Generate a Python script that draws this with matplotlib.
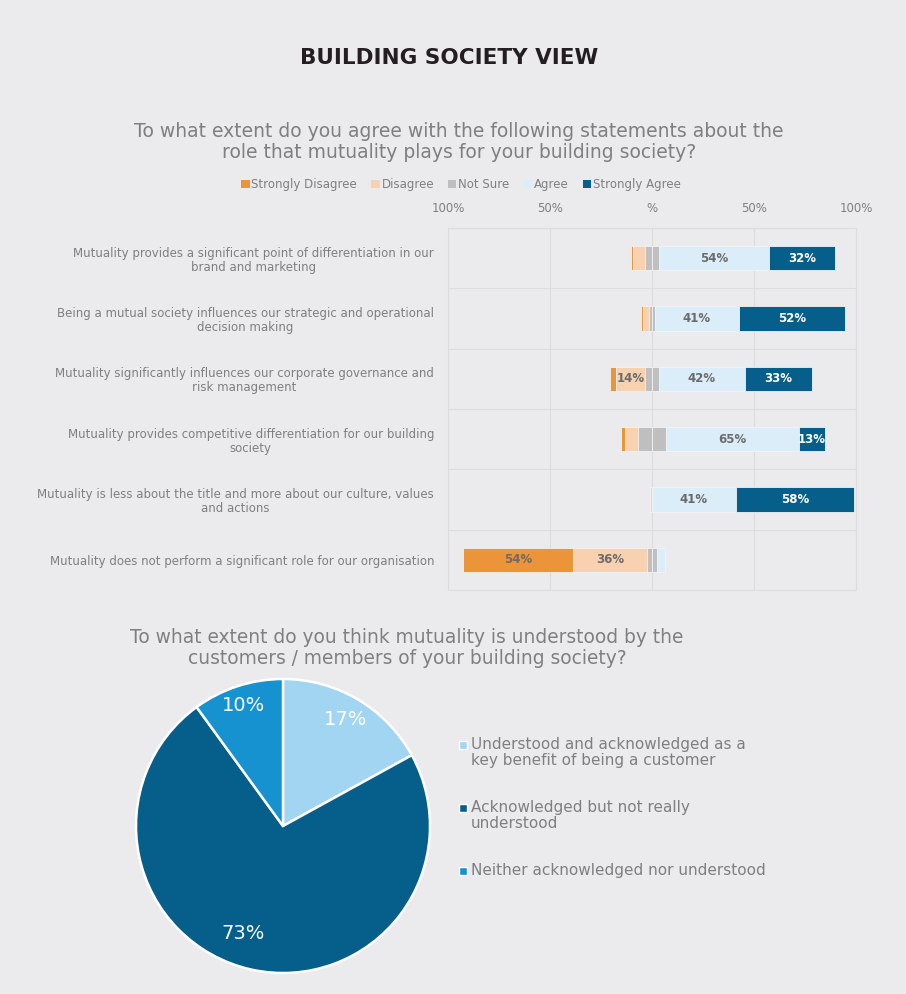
import matplotlib
matplotlib.use("Agg")
import matplotlib.pyplot as plt
from matplotlib.patches import Patch, Rectangle
import numpy as np

plt.rcParams['font.family'] = ['DejaVu Sans']

# ---------------- data ----------------
statements = [
    "Mutuality provides a significant point of differentiation in our\nbrand and marketing",
    "Being a mutual society influences our strategic and operational\ndecision making",
    "Mutuality significantly influences our corporate governance and\nrisk management",
    "Mutuality provides competitive differentiation for our building\nsociety",
    "Mutuality is less about the title and more about our culture, values\nand actions",
    "Mutuality does not perform a significant role for our organisation",
]
strongly_disagree = [1, 1, 3, 2, 0, 54]
disagree = [6, 3, 14, 6, 1, 36]
not_sure = [7, 3, 7, 14, 0, 5]
agree = [54, 41, 42, 65, 41, 4]
strongly_agree = [32, 52, 33, 13, 58, 0]
series_names = ["Strongly Disagree", "Disagree", "Not Sure", "Agree", "Strongly Agree"]
x_ticks = [-100, -50, 0, 50, 100]
x_tick_labels = ["100%", "50%", "%", "50%", "100%"]

pie_labels = ["Understood and acknowledged as a\nkey benefit of being a customer",
              "Acknowledged but not really\nunderstood",
              "Neither acknowledged nor understood"]
pie_values = [17, 73, 10]

title = "BUILDING SOCIETY VIEW"
subtitle1 = "To what extent do you agree with the following statements about the\nrole that mutuality plays for your building society?"
subtitle2 = "To what extent do you think mutuality is understood by the\ncustomers / members of your building society?"

# ---------------- style ----------------
BG = "#EBEBED"
GREY_TXT = "#7F7F7F"
c_sd, c_d, c_ns, c_a, c_sa = "#EC9439", "#F8D2B0", "#BFBFBF", "#DAEDF8", "#065E8B"
pie_colors = ["#A2D5F1", "#065E8B", "#1592CF"]

W, H = 906, 994
fig = plt.figure(figsize=(W / 100, H / 100), dpi=100, facecolor=BG)

def fx(px):
    return px / W

def fy(py):
    return 1 - py / H

# titles
fig.text(fx(449), fy(58), title, ha='center', va='center', fontsize=15.5,
         fontweight='bold', color="#231F20")
fig.text(fx(459), fy(142), subtitle1, ha='center', va='center', fontsize=13.5,
         color=GREY_TXT, linespacing=1.12)
fig.text(fx(407), fy(648), subtitle2, ha='center', va='center', fontsize=13.4,
         color=GREY_TXT, linespacing=1.12)

# ---------------- diverging bar chart ----------------
ax = fig.add_axes([fx(448), fy(590), fx(856) - fx(448), fy(228) - fy(590)])
ax.set_facecolor(BG)

sd = np.array(strongly_disagree, float)
d = np.array(disagree, float)
ns = np.array(not_sure, float)
a = np.array(agree, float)
sa = np.array(strongly_agree, float)
y = np.arange(len(statements))
bh = 0.4
ec = dict(edgecolor="#F2F2F2", linewidth=0.6)

left_ns = -ns / 2
left_d = left_ns - d
left_sd = left_d - sd
ax.barh(y, sd, left=left_sd, height=bh, color=c_sd, **ec)
ax.barh(y, d, left=left_d, height=bh, color=c_d, **ec)
ax.barh(y, ns / 2, left=left_ns, height=bh, color=c_ns, **ec)
ax.barh(y, ns / 2, left=0, height=bh, color=c_ns, **ec)
left_a = ns / 2
left_sa = left_a + a
ax.barh(y, a, left=left_a, height=bh, color=c_a, **ec)
ax.barh(y, sa, left=left_sa, height=bh, color=c_sa, **ec)

def label(vals, lefts, color):
    for yi, v, l in zip(y, vals, lefts):
        if v >= 10:
            ax.text(l + v / 2, yi, f"{int(v)}%", ha='center', va='center',
                    fontsize=8.5, fontweight='bold', color=color)

label(sd, left_sd, "#6B6B6B")
label(d, left_d, "#6B6B6B")
label(a, left_a, "#6B6B6B")
label(sa, left_sa, "white")

ax.set_xlim(-100, 100)
ax.set_ylim(len(statements) - 0.5, -0.5)
ax.set_xticks(x_ticks)
ax.set_xticklabels(x_tick_labels)
ax.xaxis.tick_top()
ax.tick_params(axis='x', length=0, pad=9, labelsize=8.5, labelcolor=GREY_TXT)
ax.set_yticks(y)
ax.set_yticklabels(statements)
ax.tick_params(axis='y', length=0, pad=10, labelsize=8.5, labelcolor=GREY_TXT)
for t in ax.get_yticklabels():
    t.set_multialignment('center')
    t.set_linespacing(1.1)
ax.set_axisbelow(True)
ax.grid(axis='x', color="#DCDCDE", linewidth=0.8)
for b in np.arange(len(statements) + 1) - 0.5:
    ax.axhline(b, color="#DCDCDE", linewidth=0.8, zorder=0)
for s in ax.spines.values():
    s.set_color("#DCDCDE")
    s.set_linewidth(0.8)

# legend
handles = [Patch(facecolor=c, edgecolor='none') for c in [c_sd, c_d, c_ns, c_a, c_sa]]
fig.legend(handles, series_names, loc='center', bbox_to_anchor=(fx(461), fy(185)),
           ncol=5, frameon=False, fontsize=8.5, labelcolor=GREY_TXT,
           handlelength=0.7, handleheight=0.7, handletextpad=0.15, columnspacing=1.2)

# ---------------- pie chart ----------------
R = 147
cx, cy = 283, 826
pax = fig.add_axes([fx(cx - R), fy(cy + R), 2 * R / W, 2 * R / H])
wedges, _ = pax.pie(pie_values, colors=pie_colors, startangle=90, counterclock=False,
                    wedgeprops=dict(edgecolor='white', linewidth=1.8), radius=1)
pax.set_xlim(-1, 1)
pax.set_ylim(-1, 1)
pax.set_aspect('equal')
label_dist = [0.84, 0.78, 0.86]
label_shift = [0, -8, 0]
for w, v, ld, sh in zip(wedges, pie_values, label_dist, label_shift):
    ang = np.deg2rad((w.theta1 + w.theta2) / 2 + sh)
    pax.text(ld * np.cos(ang), ld * np.sin(ang), f"{v}%", ha='center', va='center',
             fontsize=14, color='white')

# pie legend (manual)
for i, (lab, col) in enumerate(zip(pie_labels, pie_colors)):
    ytop = 737 + 63 * i
    fig.patches.append(Rectangle((fx(459), fy(749 + 63 * i)), 8 / W, 8 / H,
                                 transform=fig.transFigure, facecolor=col,
                                 edgecolor='white', linewidth=1.0))
    fig.text(fx(471), fy(ytop), lab, ha='left', va='top', fontsize=11,
             color=GREY_TXT, linespacing=1.12)

fig.savefig("out.png", dpi=100, facecolor=BG)
